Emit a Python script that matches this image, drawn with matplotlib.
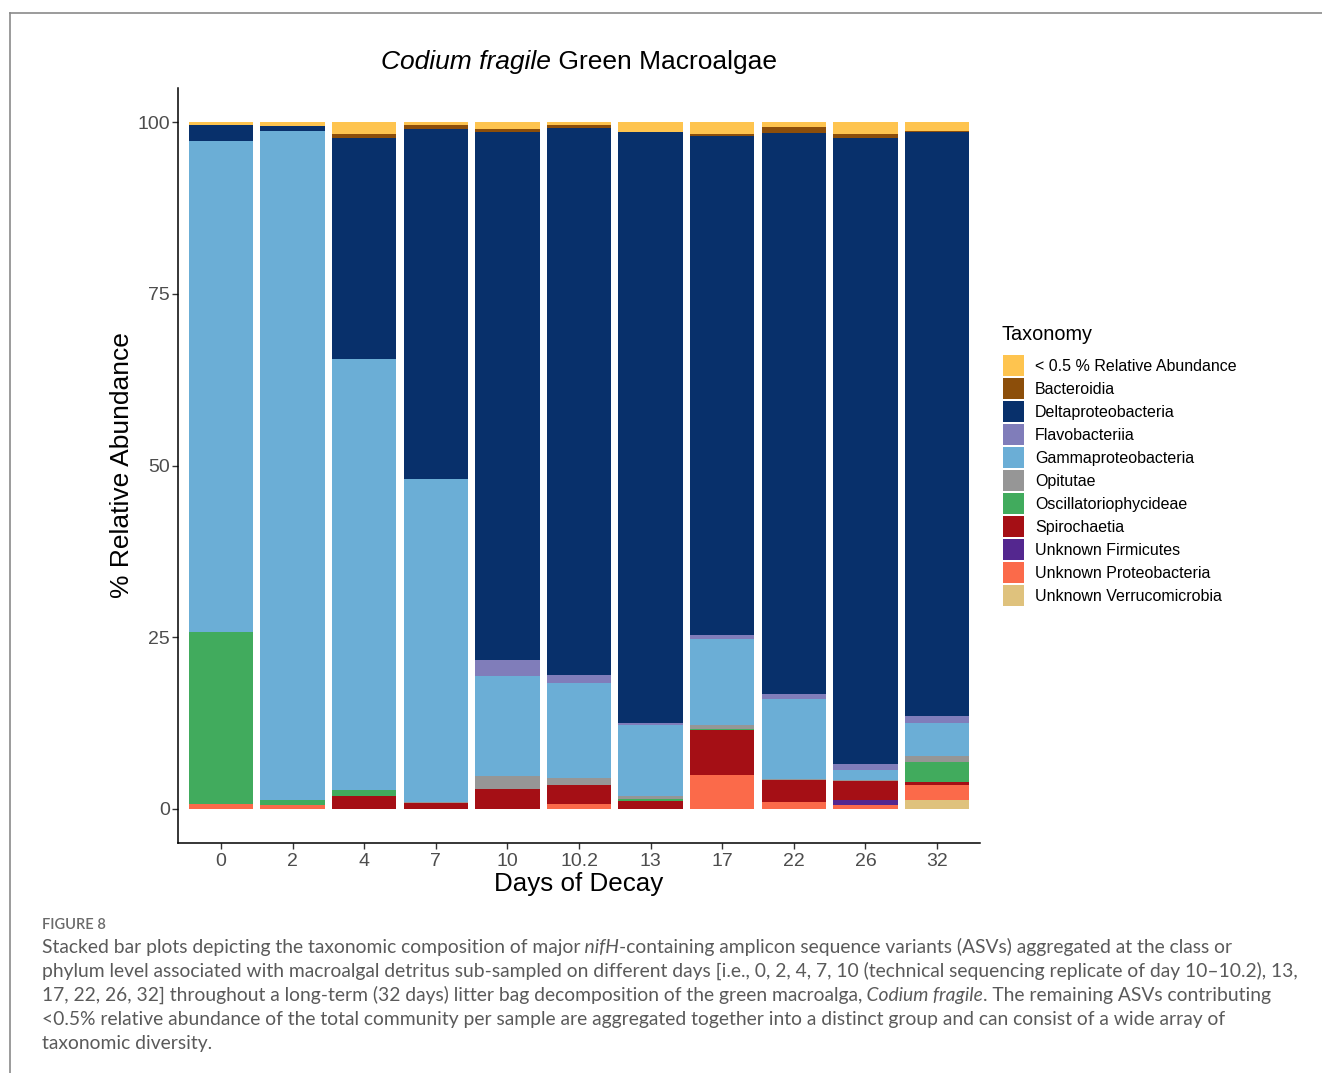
import numpy as np
import matplotlib
matplotlib.use("Agg")
import matplotlib.pyplot as plt
from matplotlib.patches import Patch
from matplotlib.lines import Line2D

# Sampling days (10.2 is a technical sequencing replicate of day 10)
days = ["0", "2", "4", "7", "10", "10.2", "13", "17", "22", "26", "32"]

# Relative abundance (%) per taxonomic class, one value per sampling day
low_abundance = [0.4, 0.5, 1.65, 0.4, 0.95, 0.45, 1.45, 1.65, 0.75, 1.65, 1.25]
bacteroidia = [0, 0, 0.65, 0.6, 0.4, 0.45, 0, 0.4, 0.8, 0.7, 0.2]
deltaproteobacteria = [2.3, 0.8, 32.25, 51.0, 77.0, 79.6, 86.0, 72.6, 81.8, 91.1, 85.1]
flavobacteriia = [0, 0, 0, 0, 2.25, 1.2, 0.4, 0.6, 0.6, 0.9, 0.9]
gammaproteobacteria = [71.5, 97.4, 62.8, 47.0, 14.6, 13.9, 10.35, 12.6, 11.75, 1.4, 4.9]
opitutae = [0, 0, 0, 0.2, 2.0, 1.0, 0.4, 0.5, 0.15, 0.15, 0.85]
oscillatoriophycideae = [25.1, 0.7, 0.8, 0, 0, 0, 0.3, 0.2, 0, 0, 2.85]
spirochaetia = [0, 0, 1.85, 0.8, 2.8, 2.7, 1.1, 6.55, 3.15, 2.9, 0.55]
unknown_firmicutes = [0, 0, 0, 0, 0, 0, 0, 0, 0, 0.6, 0]
unknown_proteobacteria = [0.7, 0.6, 0, 0, 0, 0.7, 0, 4.9, 1.0, 0.6, 2.2]
unknown_verrucomicrobia = [0, 0, 0, 0, 0, 0, 0, 0, 0, 0, 1.2]

taxa = [
    "< 0.5 % Relative Abundance", "Bacteroidia", "Deltaproteobacteria",
    "Flavobacteriia", "Gammaproteobacteria", "Opitutae",
    "Oscillatoriophycideae", "Spirochaetia", "Unknown Firmicutes",
    "Unknown Proteobacteria", "Unknown Verrucomicrobia",
]
series = [
    low_abundance, bacteroidia, deltaproteobacteria, flavobacteriia,
    gammaproteobacteria, opitutae, oscillatoriophycideae, spirochaetia,
    unknown_firmicutes, unknown_proteobacteria, unknown_verrucomicrobia,
]
colors = [
    "#FEC44F", "#8C4E0A", "#08306B", "#807DBA", "#6BAED6", "#969696",
    "#41AB5D", "#A50F15", "#54278F", "#FB6A4A", "#DFC27D",
]

SANS = "Liberation Sans"
W, H = 1322, 1073
fig = plt.figure(figsize=(W / 100, H / 100), dpi=100)
fig.patch.set_facecolor("white")

ax = fig.add_axes([178 / W, 1 - 843 / H, (980 - 178) / W, (843 - 88) / H])

x = np.arange(len(days))
bottom = np.zeros(len(days))
# stack from the last legend entry at the bottom up to the first on top
for name, vals, col in reversed(list(zip(taxa, series, colors))):
    vals = np.asarray(vals, dtype=float)
    ax.bar(x, vals, width=0.9, bottom=bottom, color=col, linewidth=0)
    bottom += vals

ax.set_xlim(-0.6, len(days) - 0.4)
ax.set_ylim(-5, 105)
ax.set_yticks([0, 25, 50, 75, 100])
ax.set_xticks(x)
ax.set_xticklabels(days)
for s in ["top", "right"]:
    ax.spines[s].set_visible(False)
for s in ["left", "bottom"]:
    ax.spines[s].set_linewidth(1.1)
    ax.spines[s].set_color("black")
ax.tick_params(axis="both", length=4, width=1.0, color="#333333",
               labelsize=14, labelcolor="#4D4D4D")
ax.tick_params(axis="y", pad=2)
ax.tick_params(axis="x", pad=3)
for lab in ax.get_xticklabels() + ax.get_yticklabels():
    lab.set_fontfamily(SANS)

ax.set_xlabel("Days of Decay", fontsize=18.7, family=SANS)
ax.set_ylabel("% Relative Abundance", fontsize=19, family=SANS)
ax.xaxis.set_label_coords(0.5, -0.039)
ax.yaxis.set_label_coords(-0.055, 0.5)

fig.canvas.draw()
renderer = fig.canvas.get_renderer()


def draw_segments(x0, y0, segments, **kw):
    """Draw a run of text pieces with their own styles, left to right."""
    xpos = x0
    for txt, style in segments:
        t = fig.text(xpos, y0, txt, style=style, transform=None, **kw)
        bb = t.get_window_extent(renderer=renderer)
        xpos = bb.x1
    return xpos


def centered_segments(xc, y0, segments, **kw):
    total = 0
    for txt, style in segments:
        t = fig.text(0, 0, txt, style=style, transform=None, **kw)
        total += t.get_window_extent(renderer=renderer).width
        t.remove()
    draw_segments(xc - total / 2, y0, segments, **kw)


# Title
centered_segments(579, H - 60, [("Codium fragile", "italic"),
                                (" Green Macroalgae", "normal")],
                  fontsize=19, family=SANS, color="black",
                  va="center_baseline")

# Legend
fig.text(1002 / W, 1 - 335 / H, "Taxonomy", fontsize=14.3, family=SANS,
         color="black", va="center", ha="left")
handles = [Patch(facecolor=c, edgecolor="none") for c in colors]
leg = fig.legend(handles, taxa, loc="upper left",
                 bbox_to_anchor=(1003 / W, 1 - 355 / H),
                 frameon=False, handlelength=1.315, handleheight=1.646,
                 labelspacing=0.125, handletextpad=0.69, borderaxespad=0,
                 borderpad=0, prop={"family": SANS, "size": 11.5})

# Caption below the chart
cap_kw = dict(fontsize=13.9, family="Lato", color="#5A5A5A", va="baseline")
fig.text(42 / W, 1 - 929 / H, "FIGURE 8", fontsize=10.5, family="Lato",
         color="#6A6A6A", va="baseline", weight="semibold")
lines = [
    [("Stacked bar plots depicting the taxonomic composition of major", "normal"),
     (" nifH", "italic"),
     ("-containing amplicon sequence variants (ASVs) aggregated at the class or", "normal")],
    [("phylum level associated with macroalgal detritus sub-sampled on different days "
      "[i.e., 0, 2, 4, 7, 10 (technical sequencing replicate of day 10\u201310.2), 13,", "normal")],
    [("17, 22, 26, 32] throughout a long-term (32 days) litter bag decomposition of the "
      "green macroalga,", "normal"),
     (" Codium fragile", "italic"),
     (". The remaining ASVs contributing", "normal")],
    [("<0.5% relative abundance of the total community per sample are aggregated together "
      "into a distinct group and can consist of a wide array of", "normal")],
    [("taxonomic diversity.", "normal")],
]
for i, segs in enumerate(lines):
    draw_segments(42, H - (953 + 24 * i), segs, **cap_kw)

# Page frame lines (top and left)
fig.add_artist(Line2D([10 / W, 1.0], [1 - 13 / H, 1 - 13 / H],
                      transform=fig.transFigure, color="#8A8A8A", linewidth=1.2))
fig.add_artist(Line2D([10 / W, 10 / W], [0, 1 - 13 / H],
                      transform=fig.transFigure, color="#8A8A8A", linewidth=1.2))

fig.savefig("out.png", dpi=100, facecolor="white")
